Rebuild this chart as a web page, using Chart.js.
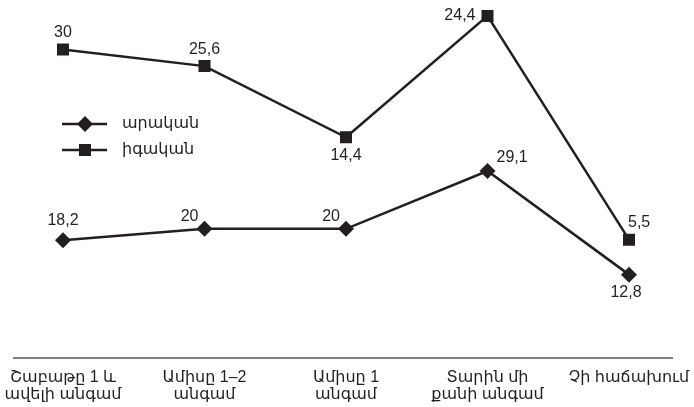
<!DOCTYPE html>
<html>
<head>
<meta charset="utf-8">
<script src="https://cdn.jsdelivr.net/npm/chart.js@4"></script>
<style>
  html, body { margin: 0; padding: 0; background: #fff; }
  #wrap { width: 694px; height: 407px; position: relative; }
</style>
</head>
<body>
<div id="wrap"><canvas id="chart"></canvas></div>
<script>
// categories (two-line labels)
const categories = [
  ["Շաբաթը 1 և", "ավելի անգամ"],
  ["Ամիսը 1–2", "անգամ"],
  ["Ամիսը 1", "անգամ"],
  ["Տարին մի", "քանի անգամ"],
  ["Չի հաճախում"],
];
const maleLabel = "արական";
const femaleLabel = "իգական";
const maleValues = [18.2, 20, 20, 29.1, 12.8];
const femaleValues = [30, 25.6, 14.4, 24.4, 5.5];

const INK = "#231f20";
const FONT = "Arial, 'Liberation Sans', 'Noto Sans', 'DejaVu Sans', sans-serif";

// label placement per point: [dx, dy, align, baseline]
const maleLabelPos = [
  [0, -12, "center", "bottom"],
  [-6, -4, "right", "bottom"],
  [-6, -4, "right", "bottom"],
  [9, -5, "left", "bottom"],
  [-3, 10, "center", "top"],
];
const femaleLabelPos = [
  [0, -9, "center", "bottom"],
  [0, -9, "center", "bottom"],
  [0, 10, "center", "top"],
  [-12, 0, "right", "middle"],
  [-1, -9, "left", "bottom"],
];

const valueLabels = {
  id: "valueLabels",
  afterDatasetsDraw(chart) {
    const ctx = chart.ctx;
    ctx.save();
    ctx.fillStyle = INK;
    ctx.font = "16px " + FONT;
    const sets = [[maleValues, maleLabelPos], [femaleValues, femaleLabelPos]];
    sets.forEach(([vals, pos], di) => {
      chart.getDatasetMeta(di).data.forEach((pt, i) => {
        const [dx, dy, align, base] = pos[i];
        ctx.textAlign = align;
        ctx.textBaseline = base;
        ctx.fillText(String(vals[i]).replace(".", ","), pt.x + dx, pt.y + dy);
      });
    });
    ctx.restore();
  }
};

const axisLine = {
  id: "axisLine",
  beforeDatasetsDraw(chart) {
    const ctx = chart.ctx;
    const y = chart.scales.y.getPixelForValue(0) + 2;
    ctx.save();
    ctx.strokeStyle = "#555";
    ctx.lineWidth = 1.5;
    ctx.beginPath();
    ctx.moveTo(13, y);
    ctx.lineTo(673, y);
    ctx.stroke();
    ctx.restore();
  }
};

const innerLegend = {
  id: "innerLegend",
  afterDraw(chart) {
    const ctx = chart.ctx;
    const rows = [
      { text: maleLabel, style: "rectRot", radius: 8, y: 124 },
      { text: femaleLabel, style: "rect", radius: 8.5, y: 150 },
    ];
    ctx.save();
    rows.forEach(r => {
      ctx.strokeStyle = INK;
      ctx.fillStyle = INK;
      ctx.lineWidth = 2.5;
      ctx.beginPath();
      ctx.moveTo(62, r.y);
      ctx.lineTo(107, r.y);
      ctx.stroke();
      Chart.helpers.drawPoint(ctx, { pointStyle: r.style, radius: r.radius, borderWidth: 0 }, 85, r.y);
      ctx.font = "16px " + FONT;
      ctx.textAlign = "left";
      ctx.textBaseline = "middle";
      ctx.fillStyle = INK;
      ctx.fillText(r.text, 122, r.y);
    });
    ctx.restore();
  }
};

new Chart(document.getElementById("chart"), {
  type: "line",
  data: {
    labels: categories,
    datasets: [
      {
        label: maleLabel,
        data: maleValues,
        borderColor: INK,
        backgroundColor: INK,
        borderWidth: 2.5,
        pointStyle: "rectRot",
        pointRadius: 8,
        pointBorderWidth: 0,
        tension: 0,
        fill: false,
      },
      {
        label: femaleLabel,
        data: femaleValues,
        borderColor: INK,
        backgroundColor: INK,
        borderWidth: 2.5,
        pointStyle: "rect",
        pointRadius: 8.5,
        pointBorderWidth: 0,
        tension: 0,
        fill: false,
      },
    ],
  },
  options: {
    responsive: true,
    maintainAspectRatio: false,
    animation: false,
    layout: { autoPadding: false, padding: { left: 63, right: 65, top: 0, bottom: 0 } },
    plugins: {
      legend: { display: false },
      tooltip: { enabled: false },
    },
    scales: {
      x: {
        offset: false,
        grid: { display: false, drawTicks: false },
        border: { display: false },
        afterFit(scale) {
          scale.height = 51;
          scale.paddingLeft = 0;
          scale.paddingRight = 0;
        },
        ticks: {
          color: INK,
          padding: 13,
          maxRotation: 0,
          autoSkip: false,
          font: { family: FONT, size: 16, lineHeight: 1.05 },
        },
      },
      y: {
        display: false,
        stacked: true,
        min: 0,
        max: 56,
      },
    },
  },
  plugins: [axisLine, valueLabels, innerLegend],
});
</script>
</body>
</html>
